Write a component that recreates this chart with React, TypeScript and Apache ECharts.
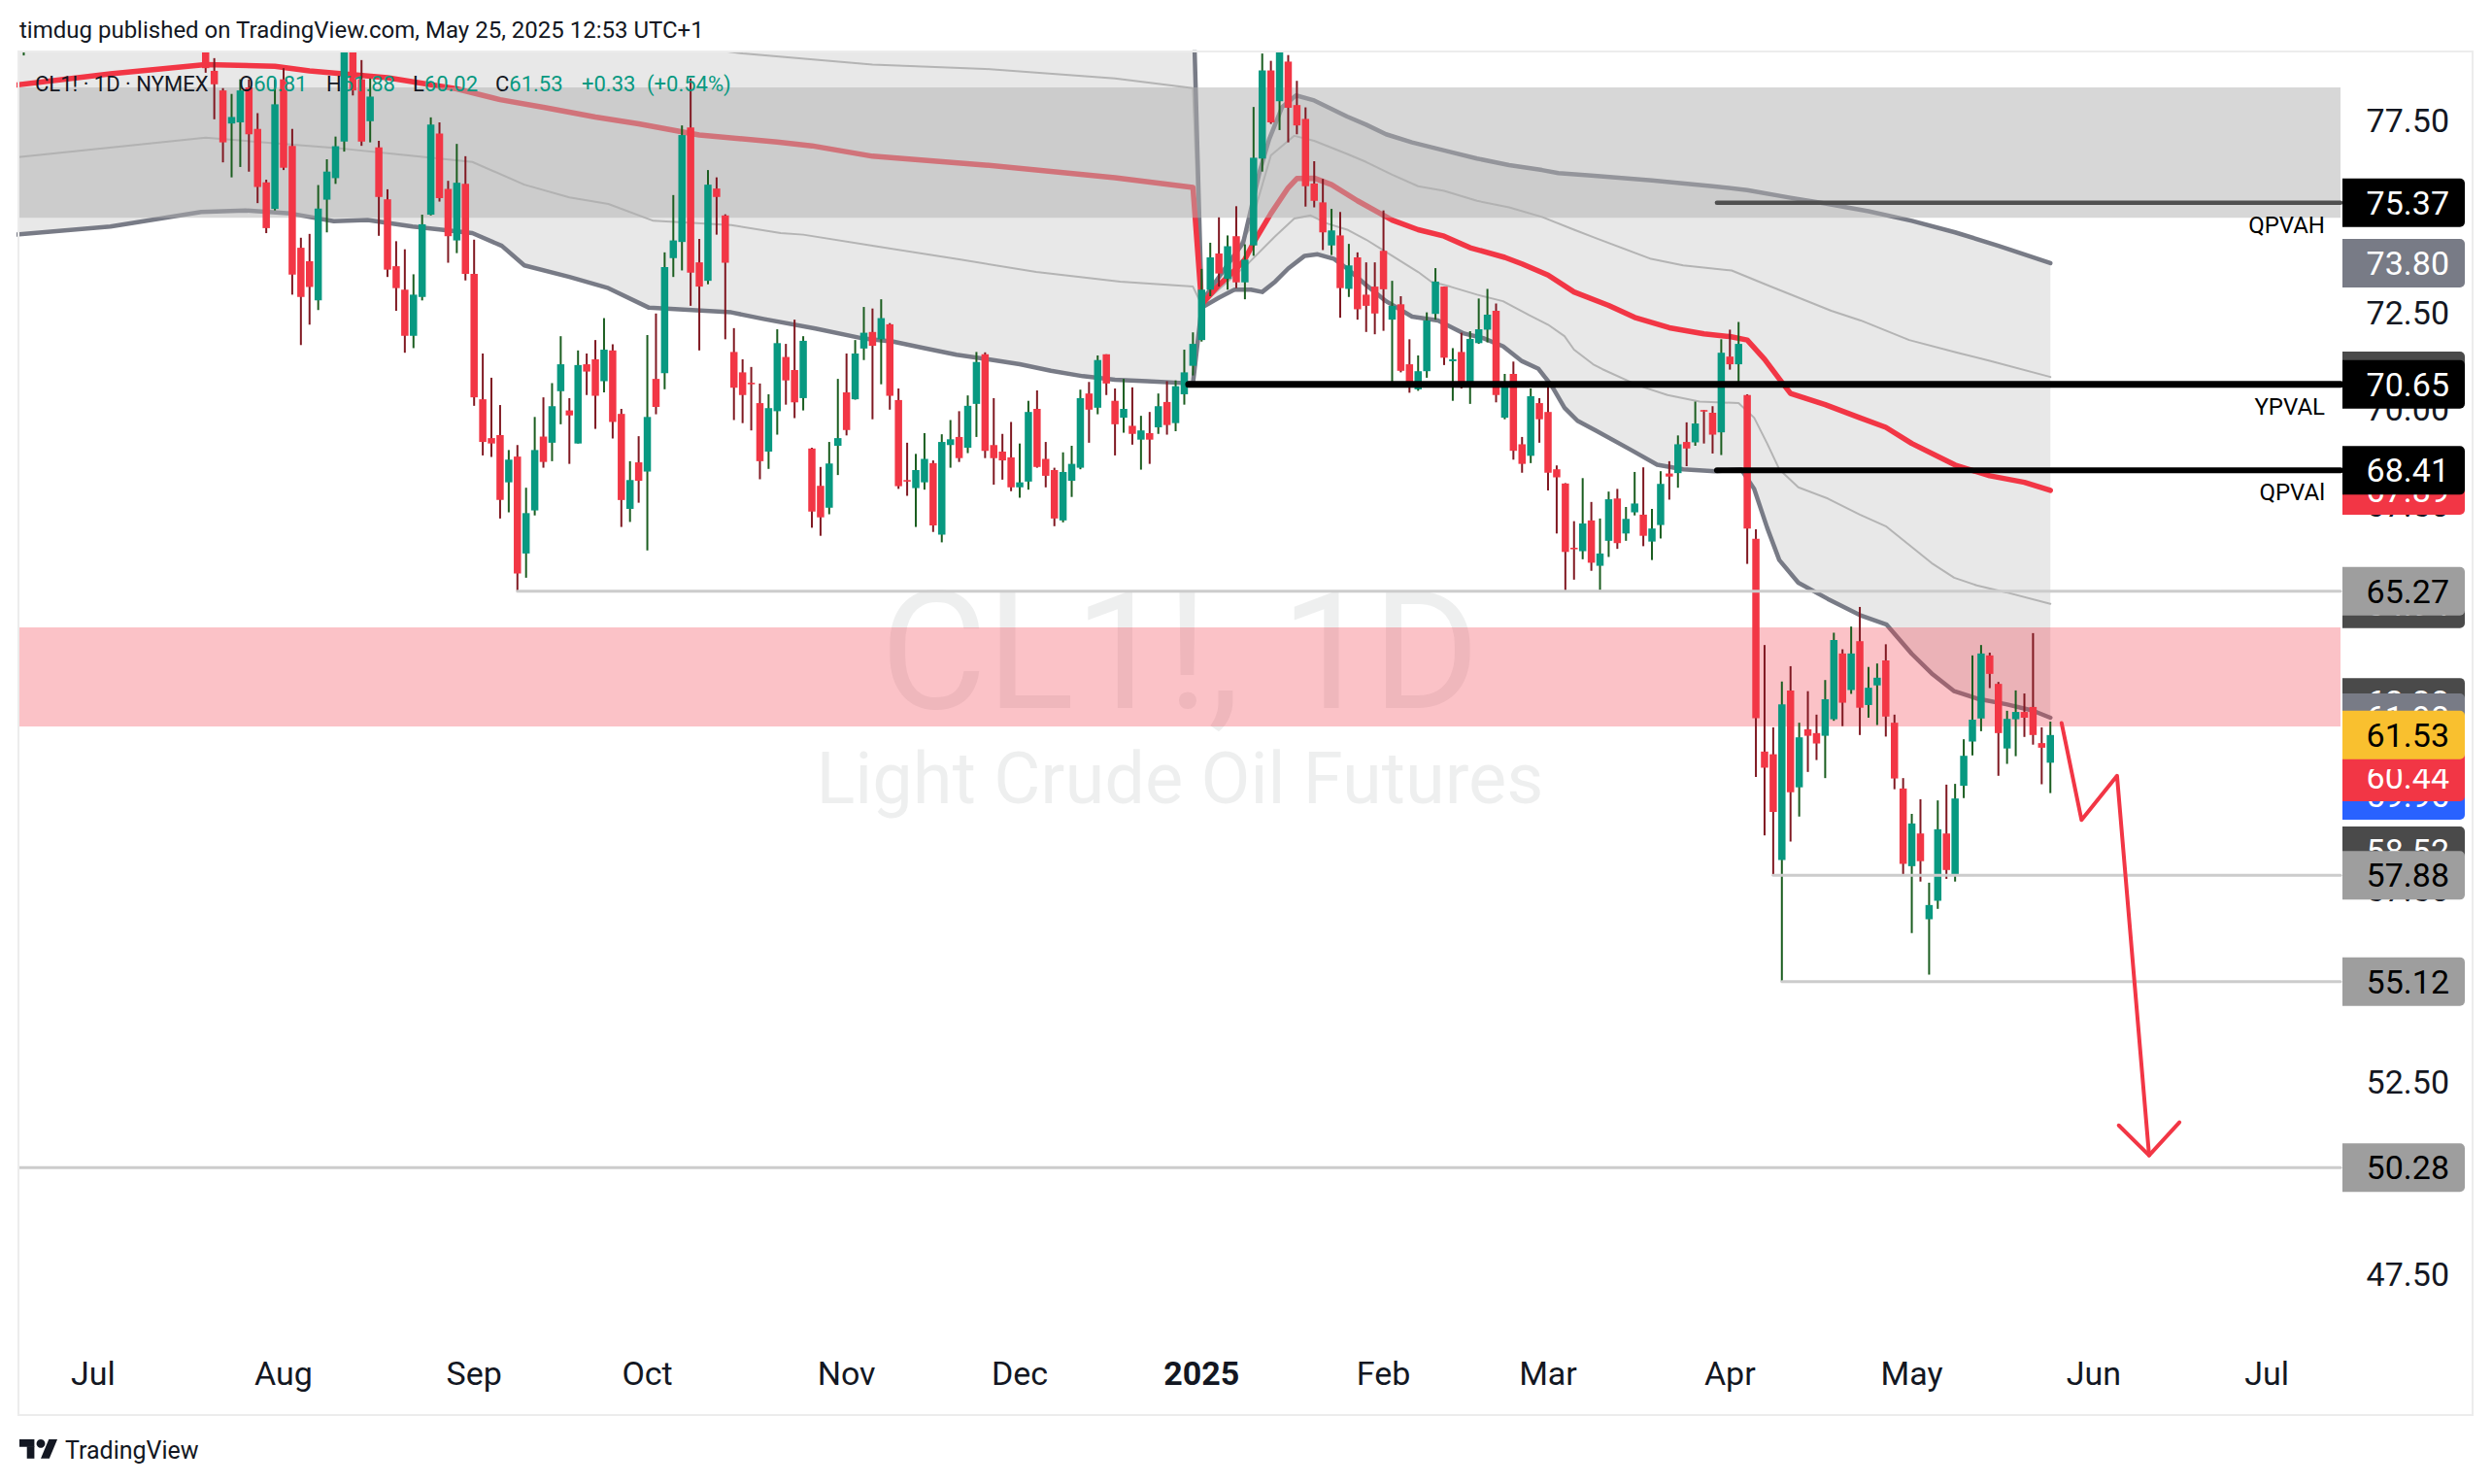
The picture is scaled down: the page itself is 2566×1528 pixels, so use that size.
import React, { useEffect, useRef } from "react";
import * as echarts from "echarts";

// ---------- calendar (trading sessions) ----------
const FIRST_SESSION = "2024-06-18";
const LAST_SESSION = "2025-07-14";
const HOLIDAYS = [
  "2024-06-19", "2024-07-04", "2024-09-02", "2024-11-28", "2024-12-25",
  "2025-01-01", "2025-01-20", "2025-02-17", "2025-04-18", "2025-05-26",
  "2025-06-19", "2025-07-04",
];
const MONTH_NAMES = ["Jan", "Feb", "Mar", "Apr", "May", "Jun", "Jul", "Aug", "Sep", "Oct", "Nov", "Dec"];

// ---------- daily candles [open, high, low, close] ----------
const jun2024 = [
  [80.3, 81.0, 79.2, 80.7], [80.8, 81.9, 80.5, 81.6], [81.5, 81.7, 80.5, 80.9], [80.8, 81.8, 80.3, 81.6],
  [81.6, 81.9, 80.6, 80.8], [80.8, 81.3, 80.0, 80.9], [80.8, 81.9, 80.4, 81.7], [81.8, 82.3, 81.3, 81.5],
];
const jul2024 = [
  [81.5, 83.5, 81.4, 83.3], [83.3, 83.8, 82.5, 82.8], [82.8, 83.9, 82.5, 83.8], [83.8, 84.3, 82.8, 83.1],
  [83.1, 83.3, 82.0, 82.3], [82.3, 82.4, 81.0, 81.4], [81.4, 82.3, 81.2, 82.1], [82.1, 83.0, 81.9, 82.6],
  [82.6, 82.9, 81.8, 82.2], [82.2, 82.4, 81.2, 81.9], [81.9, 82.0, 80.6, 80.8], [80.8, 83.0, 80.7, 82.8],
  [82.3, 82.5, 80.6, 80.9], [80.6, 80.9, 78.75, 78.87], [78.8, 79.13, 77.54, 78.45], [78.29, 78.35, 76.42, 76.94],
  [77.43, 78.2, 76.03, 77.6], [77.46, 78.58, 76.3, 78.29], [78.37, 78.58, 76.18, 77.15], [77.29, 77.7, 75.36, 75.78],
  [75.9, 75.97, 74.58, 74.71], [75.21, 78.58, 75.17, 77.93],
];
const aug2024 = [
  [78.58, 78.87, 76.22, 76.28], [76.85, 77.29, 72.98, 73.5], [74.2, 74.46, 71.67, 72.92], [73.85, 74.56, 72.2, 73.18],
  [72.83, 75.83, 72.58, 75.22], [75.45, 76.5, 74.6, 76.18], [76.01, 77.09, 75.86, 76.84], [76.96, 80.3, 76.7, 80.1],
  [79.8, 80.2, 78.16, 78.29], [78.58, 79.08, 76.85, 76.96], [77.49, 78.6, 76.94, 78.13], [76.81, 76.98, 74.51, 75.52],
  [75.46, 75.72, 73.44, 73.63], [73.72, 74.37, 72.56, 73.15], [73.11, 74.16, 71.47, 71.91], [71.91, 73.51, 71.59, 72.98],
  [72.92, 75.06, 72.83, 74.81], [75.06, 77.59, 75.04, 77.4], [77.17, 77.46, 75.4, 75.49], [75.73, 75.94, 73.81, 74.5],
  [74.39, 76.9, 74.06, 75.89], [75.86, 76.58, 73.35, 73.52],
];
const sep2024 = [
  [73.52, 74.41, 70.09, 70.31], [70.26, 71.45, 68.8, 69.15], [69.25, 70.82, 68.76, 69.11], [69.33, 70.11, 67.16, 67.64],
  [68.1, 68.94, 67.32, 68.69], [68.77, 69.07, 65.28, 65.73], [66.25, 67.96, 65.62, 67.3], [67.37, 69.8, 67.24, 68.94],
  [69.29, 70.31, 68.48, 68.63], [69.13, 70.68, 68.65, 70.08], [70.47, 71.9, 69.61, 71.17], [69.97, 70.29, 68.58, 69.84],
  [69.11, 71.53, 69.11, 71.15], [71.17, 71.45, 70.37, 70.98], [71.3, 71.8, 69.49, 70.35], [70.73, 72.37, 70.44, 71.55],
  [71.53, 71.69, 69.24, 69.67], [69.88, 70.01, 66.94, 67.64], [67.41, 68.65, 67.07, 68.16], [68.62, 69.3, 67.57, 68.14],
];
const oct2024 = [
  [68.38, 71.93, 66.33, 69.8], [70.79, 72.49, 69.87, 70.06], [70.94, 74.08, 70.52, 73.7], [73.93, 75.57, 73.44, 74.39],
  [74.35, 77.38, 73.61, 77.13], [77.33, 78.6, 72.69, 73.55], [73.82, 74.43, 71.53, 73.19], [73.34, 76.22, 73.25, 75.84],
  [75.74, 76.03, 74.54, 75.52], [75.04, 75.07, 71.82, 73.81], [71.49, 72.11, 69.72, 70.56], [70.96, 71.3, 69.64, 70.37],
  [70.69, 71.1, 69.45, 70.65], [70.16, 70.67, 68.18, 68.65], [68.9, 70.39, 68.45, 70.03], [69.95, 72.08, 69.34, 71.72],
  [71.36, 71.7, 70.12, 70.75], [71.02, 72.33, 69.77, 70.18], [70.29, 71.9, 69.97, 71.78], [68.98, 69.0, 66.92, 67.34],
  [68.01, 68.5, 66.71, 67.19], [67.44, 69.15, 67.27, 68.59], [69.05, 70.79, 68.29, 69.25],
];
const nov2024 = [
  [70.44, 71.45, 69.32, 69.46], [70.26, 71.8, 70.25, 71.45], [71.58, 72.66, 71.28, 71.99], [72.01, 72.62, 69.74, 71.65],
  [71.82, 72.86, 70.65, 72.37], [72.21, 72.24, 69.99, 70.35], [70.24, 70.54, 67.93, 68.0], [68.16, 69.13, 67.75, 68.13],
  [67.95, 68.84, 66.94, 68.42], [68.1, 69.38, 67.91, 68.71], [68.6, 68.67, 66.81, 66.98], [66.74, 69.35, 66.54, 69.15],
  [69.07, 69.72, 68.48, 69.22], [69.28, 69.95, 68.63, 68.73], [69.0, 70.36, 68.86, 70.09], [70.14, 71.49, 69.28, 71.23],
  [71.43, 71.48, 68.73, 68.92], [69.07, 70.29, 68.04, 68.73], [68.9, 69.36, 68.17, 68.67], [68.75, 69.67, 67.87, 67.97],
];
const dec2024 = [
  [67.97, 69.11, 67.7, 68.1], [68.12, 70.22, 67.91, 69.93], [70.01, 70.49, 68.48, 68.5], [68.71, 69.15, 67.97, 68.27],
  [68.42, 68.48, 66.96, 67.16], [67.11, 68.88, 67.06, 68.37], [68.14, 69.05, 67.72, 68.58], [68.48, 70.51, 68.44, 70.29],
  [70.41, 70.71, 69.13, 69.99], [70.04, 71.4, 69.87, 71.28], [71.43, 71.43, 70.37, 70.67], [70.22, 70.54, 68.8, 69.61],
  [69.78, 70.79, 69.39, 70.01], [69.57, 70.57, 69.08, 69.36], [69.21, 69.83, 68.43, 69.45], [69.38, 69.93, 68.58, 69.21],
  [69.53, 70.41, 69.36, 70.08], [70.19, 70.73, 69.34, 69.59], [69.64, 70.75, 69.43, 70.6], [70.39, 71.55, 70.12, 70.96],
  [71.13, 72.0, 70.88, 71.7],
];
const jan2025 = [
  [71.8, 73.65, 71.76, 73.11], [73.11, 74.33, 72.94, 73.95], [74.05, 74.99, 73.19, 73.53], [73.39, 74.52, 73.11, 74.24],
  [74.5, 75.28, 73.15, 73.3], [73.3, 74.29, 72.86, 73.89], [74.26, 77.86, 73.99, 76.54], [76.52, 79.25, 76.18, 78.81],
  [78.81, 79.06, 77.42, 77.46], [78.01, 79.8, 77.26, 79.45], [79.04, 79.21, 76.94, 77.84], [77.91, 78.54, 77.15, 77.38],
  [77.55, 77.85, 75.27, 75.8], [75.87, 76.45, 75.25, 75.42], [75.38, 75.99, 74.14, 74.6], [74.26, 75.21, 74.01, 74.65],
  [74.52, 75.13, 72.38, 73.15], [73.13, 74.3, 72.92, 73.74], [73.95, 74.08, 72.33, 72.6], [72.98, 73.82, 72.01, 72.69],
  [73.19, 73.82, 71.95, 72.49],
];
const feb2025 = [
  [74.12, 75.17, 72.04, 73.12], [72.33, 73.34, 70.71, 72.69], [72.73, 72.94, 70.96, 71.0], [71.17, 71.82, 70.43, 70.58],
  [70.52, 71.4, 70.48, 70.99], [70.99, 72.52, 70.82, 72.31], [72.48, 73.67, 72.33, 73.32], [73.19, 73.19, 71.15, 71.34],
  [71.25, 71.59, 70.22, 71.3], [71.49, 71.99, 70.54, 70.71], [70.67, 72.03, 70.14, 71.83], [71.72, 72.88, 71.7, 72.08],
  [72.07, 73.13, 71.74, 72.46], [72.56, 72.75, 70.18, 70.37], [69.78, 70.92, 69.74, 70.69], [70.92, 71.24, 68.69, 68.92],
  [69.09, 69.28, 68.35, 68.58], [68.79, 70.54, 68.6, 70.34], [70.16, 70.29, 69.13, 69.74],
];
const mar2025 = [
  [69.93, 70.58, 67.89, 68.35], [68.44, 68.54, 66.77, 68.23], [68.07, 68.08, 65.24, 66.29], [66.4, 67.09, 65.57, 66.36],
  [66.31, 68.21, 66.1, 67.03], [67.11, 67.59, 65.8, 66.01], [65.93, 67.16, 65.3, 66.25], [66.58, 67.86, 66.16, 67.66],
  [67.68, 67.93, 66.37, 66.52], [66.77, 67.46, 66.58, 67.15], [67.32, 68.37, 67.24, 67.55], [67.26, 68.49, 66.44, 66.71],
  [66.56, 67.41, 66.08, 66.9], [66.99, 68.39, 66.64, 68.06], [68.33, 68.65, 67.65, 68.25], [68.34, 69.32, 67.96, 69.09],
  [69.15, 69.66, 68.52, 68.98], [69.14, 70.2, 69.05, 69.63], [69.98, 69.98, 69.11, 69.95], [69.91, 70.08, 68.85, 69.34],
  [69.4, 71.82, 68.81, 71.47],
];
const apr2025 = [
  [71.37, 72.07, 71.03, 71.17], [71.17, 72.27, 70.6, 71.7], [70.37, 70.39, 65.98, 66.9], [66.63, 66.88, 60.44, 61.97],
  [61.1, 63.87, 58.92, 60.68], [61.03, 61.73, 57.87, 59.53], [58.28, 62.92, 55.12, 62.33], [62.69, 63.32, 58.76, 60.04],
  [60.17, 61.85, 59.41, 61.47], [61.68, 62.67, 60.57, 61.51], [61.58, 62.06, 60.88, 61.31], [61.51, 62.96, 60.41, 62.46],
  [61.94, 64.19, 61.9, 64.0], [63.65, 63.76, 61.76, 62.37], [62.7, 64.35, 62.6, 63.65], [63.97, 64.86, 61.53, 62.24],
  [62.31, 63.3, 61.98, 62.76], [62.82, 63.39, 61.79, 63.02], [63.47, 63.89, 61.49, 62.01], [61.85, 62.06, 60.12, 60.4],
  [60.14, 60.41, 57.9, 58.18],
];
const may2025 = [
  [58.12, 59.48, 56.38, 59.23], [58.97, 59.86, 57.72, 58.25], [56.74, 57.69, 55.3, 57.11], [57.22, 59.83, 57.01, 59.08],
  [58.97, 60.24, 57.79, 58.02], [57.9, 60.26, 57.72, 59.88], [60.21, 61.42, 59.89, 60.99], [61.36, 63.6, 61.0, 61.93],
  [61.96, 63.87, 61.63, 63.65], [63.6, 63.67, 62.75, 63.12], [62.86, 62.91, 60.47, 61.58], [61.18, 62.16, 60.78, 61.95],
  [61.94, 62.69, 60.98, 62.13], [62.13, 62.61, 61.48, 61.98], [62.26, 64.18, 61.28, 61.53], [61.32, 61.73, 60.25, 61.2],
  [60.81, 61.88, 60.02, 61.53],
];

// ---------- anchored VWAP and bands: [bar offset from 2024-07-01, price] ----------
const vwapLine = [
  [-9, 78.43], [2, 78.72], [13, 78.96], [21, 78.92], [25, 78.8], [34, 78.62], [42, 78.33], [47, 78.05], [52, 77.85],
  [58, 77.6], [63, 77.42], [70, 77.13], [79, 76.95], [83, 76.85], [90, 76.58], [103, 76.35], [118, 76.02], [127, 75.77],
  [128, 72.72], [129, 72.98], [130, 73.23], [132, 73.65], [133, 73.9], [134, 74.33], [135, 74.71], [136, 75.09],
  [138, 75.76], [139, 76.0], [141, 76.01], [143, 75.84], [146, 75.42], [150, 74.92], [153, 74.67], [156, 74.5],
  [159, 74.2], [163, 73.95], [165, 73.78], [168, 73.49], [171, 73.05], [175, 72.7], [178, 72.39], [182, 72.12],
  [186, 71.96], [189, 71.89], [191, 71.8], [193, 71.3], [195, 70.7], [196, 70.41], [200, 70.12], [204, 69.78],
  [207, 69.53], [210, 69.11], [215, 68.55], [219, 68.27], [223, 68.1], [226, 67.89],
];
const upperBand2 = [
  [-9, 82.4], [20, 82.9], [45, 82.6], [70, 81.8], [90, 81.1], [110, 80.9], [127, 80.9],
  [128, 72.8], [132.8, 74.33], [134.7, 76.18], [135.8, 77.02], [137.3, 77.86], [138.9, 78.16], [141, 78.03],
  [144.8, 77.61], [147, 77.4], [149.3, 77.15], [152.3, 76.94], [156, 76.73], [159.8, 76.52], [163.5, 76.35],
  [167.3, 76.22], [169.2, 76.14], [173, 76.08], [180, 75.95], [187, 75.8], [191, 75.7], [196, 75.5], [200, 75.35],
  [205, 75.15], [210, 74.9], [215, 74.6], [220, 74.25], [226, 73.8],
];
const upperBand1 = [
  [-9, 80.4], [13, 80.9], [40, 80.4], [60, 79.7], [75, 79.25], [90, 78.96], [103, 78.85], [118, 78.6], [127, 78.35],
  [128, 72.75], [133.5, 74.67], [136, 76.6], [138.7, 77.11], [141, 76.98], [144.8, 76.64], [147, 76.43], [150, 76.1],
  [153, 75.8], [156, 75.68], [159.8, 75.42], [163.5, 75.25], [167.3, 75.0], [171, 74.67], [173.5, 74.45],
  [179.9, 73.91], [183.6, 73.74], [189.2, 73.61], [193.3, 73.23], [200.7, 72.56], [204.1, 72.31], [209.7, 71.8],
  [215.3, 71.47], [219, 71.26], [226, 70.84],
];
const lowerBand1 = [
  [-9, 76.55], [13, 77.06], [27.8, 76.8], [36.4, 76.6], [43.8, 76.43], [49.8, 75.84], [55, 75.51], [59.5, 75.34],
  [64.7, 74.9], [73.7, 74.79], [79.4, 74.58], [82, 74.54], [90, 74.25], [100, 73.9], [108.9, 73.57], [118.6, 73.32],
  [127, 73.19], [128, 72.72], [133.5, 73.82], [136.5, 74.5], [138.7, 74.96], [140.6, 75.04], [142.5, 74.83],
  [144.8, 74.67], [147, 74.41], [150, 73.99], [153, 73.57], [154.5, 73.32], [156.7, 73.19], [159.8, 72.98],
  [162.8, 72.81], [165.8, 72.45], [168, 72.2], [169.9, 71.9], [171, 71.55], [173.2, 71.17], [174.3, 71.04],
  [178.4, 70.62], [181.8, 70.37], [185.5, 70.2], [190, 70.16], [191.8, 69.78], [193.3, 69.11], [194.7, 68.44],
  [196.9, 67.97], [200.3, 67.68], [204, 67.26], [207, 66.96], [210, 66.42], [212.3, 66.0], [214.9, 65.62],
  [217.5, 65.42], [220.9, 65.24], [226, 64.94],
];
const lowerBand2 = [
  [-9, 74.54], [2, 74.75], [12.5, 75.13], [17.6, 75.17], [22.8, 75.09], [27.8, 74.89], [31.7, 74.92], [36.9, 74.75],
  [43.8, 74.58], [47.2, 74.25], [49.8, 73.74], [55, 73.44], [59.5, 73.15], [64.2, 72.64], [73.7, 72.52],
  [77.4, 72.35], [83.4, 72.1], [88.7, 71.85], [92.4, 71.76], [96, 71.59], [99.7, 71.42], [103.4, 71.3], [107, 71.17],
  [110.6, 71.0], [114.3, 70.86], [118, 70.77], [121.7, 70.73], [127, 70.67],
  [128, 72.64], [130, 72.9], [131.8, 73.11], [133.7, 73.11], [135, 73.05], [136.5, 73.32], [138, 73.66],
  [139.9, 73.99], [141.4, 74.03], [143.3, 73.91], [144.8, 73.66], [147, 73.23], [149.3, 72.81], [152.3, 72.41],
  [155.3, 72.31], [158.3, 71.97], [160.5, 71.85], [162.8, 71.64], [165, 71.25], [166.9, 71.05], [168.4, 70.62],
  [169.9, 70.04], [171.4, 69.7], [173.5, 69.45], [177.6, 68.94], [180.6, 68.56], [183.6, 68.44], [187.3, 68.39],
  [190.3, 68.44], [191.8, 67.93], [193.3, 66.92], [194.7, 66.08], [196.9, 65.49], [200.3, 65.07], [204, 64.65],
  [207.1, 64.4], [210, 63.64], [212.3, 63.13], [214.9, 62.67], [217.5, 62.48], [220.9, 62.33], [223.9, 62.17],
  [226, 61.98],
];

// ---------- horizontal levels ----------
const levelPrices = [75.37, 70.65, 68.41, 65.27, 57.88, 55.12, 50.28];
const levelStarts = [187.5, 126.5, 187.5, 49, 194, 195, -9];
const levelNames = ["QPVAH", "YPVAL", "QPVAl", "", "", "", ""];

// ---------- zones [top, bottom] ----------
const zoneTops = [78.37, 64.33];
const zoneBottoms = [74.98, 61.75];

// ---------- projected path ----------
const arrowPath = [[227.3, 61.84], [229.6, 59.32], [233.7, 60.47], [237.4, 50.6]];
const arrowHead = [[233.9, 51.38], [237.4, 50.6], [240.9, 51.46]];

// ---------- price scale (ticks that peek out from under the tags) ----------
const priceTicks = [77.5, 72.5, 70, 67.5, 57.5, 52.5, 47.5];
const tagPrices = [70.87, 75.37, 70.65, 73.8, 67.89, 68.41, 64.94, 65.27, 59.96, 60.44, 61.27, 62.38, 61.98, 61.53, 58.52, 57.88, 55.12, 50.28];
const tagKinds = ["dark", "black", "black", "slate", "red", "black", "dark", "grey", "blue", "red", "red", "dark", "slate", "yellow", "dark", "grey", "grey", "grey"];

// ---------- styling ----------
const FONT = "Roboto, 'Noto Sans', sans-serif";
const TEXT = "#131722";
const UP = "#089981";
const DN = "#f23645";
const WICK_UP = "#1b5e20";
const WICK_DN = "#801922";
const Y_MIN = 45.692;
const Y_MAX = 79.278;
const TAG_STYLE: Record<string, { bg: string; fg: string }> = {
  black: { bg: "#000000", fg: "#ffffff" },
  slate: { bg: "#787b86", fg: "#ffffff" },
  red: { bg: "#f23645", fg: "#ffffff" },
  dark: { bg: "#4a4a4a", fg: "#ffffff" },
  grey: { bg: "#9e9e9e", fg: "#000000" },
  blue: { bg: "#2962ff", fg: "#ffffff" },
  yellow: { bg: "#f9c02f", fg: "#000000" },
};
const ZONE_FILLS = ["rgba(175,175,175,0.5)", "rgba(242,54,69,0.3)"];
const LEVEL_STYLE = [
  { color: "#4f4f4f", width: 4.5 },
  { color: "#000000", width: 7 },
  { color: "#000000", width: 6 },
  { color: "#cccccc", width: 3 },
  { color: "#cccccc", width: 3 },
  { color: "#cccccc", width: 3 },
  { color: "#cccccc", width: 3 },
];

function buildSessions(): string[] {
  const out: string[] = [];
  const d = new Date(FIRST_SESSION + "T00:00:00Z");
  const end = new Date(LAST_SESSION + "T00:00:00Z");
  while (d.getTime() <= end.getTime()) {
    const wd = d.getUTCDay();
    const s = d.toISOString().slice(0, 10);
    if (wd !== 0 && wd !== 6 && HOLIDAYS.indexOf(s) < 0) out.push(s);
    d.setUTCDate(d.getUTCDate() + 1);
  }
  return out;
}

const sessions = buildSessions();
const X0 = sessions.indexOf("2024-07-01");
const X_MAX = sessions.length - 0.5;
const candles = [...jun2024, ...jul2024, ...aug2024, ...sep2024, ...oct2024, ...nov2024, ...dec2024,
  ...jan2025, ...feb2025, ...mar2025, ...apr2025, ...may2025];
const monthStart = sessions.map((s, i) => i > 0 && s.slice(0, 7) !== sessions[i - 1].slice(0, 7));

const toXY = (pts: number[][]) => pts.map(([i, v]) => [i + X0, v]);

function lineSeries(pts: number[][], color: string, width: number, z: number) {
  return {
    type: "line",
    xAxisIndex: 1,
    yAxisIndex: 0,
    data: pts,
    showSymbol: false,
    symbol: "none",
    silent: true,
    z,
    lineStyle: { color, width, cap: "round", join: "round" },
  };
}

function buildOption() {
  const series: any[] = [];

  // band fill between outer bands
  series.push({
    type: "custom",
    xAxisIndex: 1,
    yAxisIndex: 0,
    z: 1,
    silent: true,
    clip: true,
    data: [[0, 60]],
    encode: { x: 0, y: 1 },
    renderItem: (params: any, api: any) => {
      const cs = params.coordSys;
      const cl = (p: number[]) => [
        Math.max(cs.x, Math.min(cs.x + cs.width, p[0])),
        Math.max(cs.y, Math.min(cs.y + cs.height, p[1])),
      ];
      const pts = toXY(upperBand2).map((p) => cl(api.coord(p)))
        .concat(toXY(lowerBand2).reverse().map((p) => cl(api.coord(p))));
      return { type: "polygon", shape: { points: pts }, style: { fill: "#e8e8e8" } };
    },
  });

  series.push(lineSeries(toXY(upperBand1), "#b4b4b4", 2, 2));
  series.push(lineSeries(toXY(lowerBand1), "#b4b4b4", 2, 2));
  series.push(lineSeries(toXY(upperBand2), "#787b86", 4.5, 2));
  series.push(lineSeries(toXY(lowerBand2), "#787b86", 4.5, 2));
  series.push(lineSeries(toXY(vwapLine), "#f23645", 5.5, 2));

  // shaded zones
  series.push({
    type: "custom",
    xAxisIndex: 1,
    yAxisIndex: 0,
    z: 3,
    silent: true,
    data: zoneTops.map((t, k) => [0, t, zoneBottoms[k]]),
    encode: { x: 0, y: [1, 2] },
    renderItem: (params: any, api: any) => {
      const cs = params.coordSys;
      const y1 = api.coord([0, api.value(1)])[1];
      const y2 = api.coord([0, api.value(2)])[1];
      return {
        type: "rect",
        shape: { x: cs.x, y: y1, width: cs.width, height: y2 - y1 },
        style: { fill: ZONE_FILLS[params.dataIndex] },
      };
    },
  });

  // candles
  series.push({
    type: "custom",
    xAxisIndex: 1,
    yAxisIndex: 0,
    z: 4,
    silent: true,
    clip: true,
    data: candles.map((c, i) => [i, c[0], c[1], c[2], c[3]]),
    encode: { x: 0, y: [1, 2, 3, 4] },
    renderItem: (params: any, api: any) => {
      const x = api.value(0);
      const o = api.value(1), h = api.value(2), l = api.value(3), c = api.value(4);
      const up = c >= o;
      const pO = api.coord([x, o]);
      const yC = api.coord([x, c])[1];
      const yH = api.coord([x, h])[1];
      const yL = api.coord([x, l])[1];
      const w = api.size([1, 0])[0] * 0.84;
      const top = Math.min(pO[1], yC);
      const ht = Math.max(Math.abs(pO[1] - yC), 1.6);
      return {
        type: "group",
        children: [
          { type: "rect", shape: { x: pO[0] - 1, y: yH, width: 2, height: Math.max(yL - yH, 1) }, style: { fill: up ? WICK_UP : WICK_DN } },
          { type: "rect", shape: { x: pO[0] - w / 2, y: top, width: w, height: ht }, style: { fill: up ? UP : DN } },
        ],
      };
    },
  });

  // levels
  levelPrices.forEach((p, k) => {
    series.push(lineSeries([[levelStarts[k] + X0, p], [X_MAX, p]], LEVEL_STYLE[k].color, LEVEL_STYLE[k].width, 5));
  });

  // projected path
  series.push(lineSeries(toXY(arrowPath), "#f23645", 4, 6));
  series.push(lineSeries(toXY(arrowHead), "#f23645", 4, 6));

  return {
    animation: false,
    backgroundColor: "#ffffff",
    grid: { left: 20, top: 54, width: 2390, height: 1330 },
    xAxis: [
      {
        type: "category",
        data: sessions,
        boundaryGap: true,
        axisLine: { show: false },
        axisTick: { show: false },
        splitLine: { show: false },
        axisLabel: {
          interval: (i: number) => monthStart[i],
          formatter: (v: string) => {
            const m = +v.slice(5, 7);
            return m === 1 ? "{b|" + v.slice(0, 4) + "}" : MONTH_NAMES[m - 1];
          },
          fontSize: 34,
          fontFamily: FONT,
          color: TEXT,
          margin: 13,
          rich: { b: { fontSize: 34, fontFamily: FONT, color: TEXT, fontWeight: "bold" } },
        },
      },
      { type: "value", min: -0.5, max: X_MAX, show: false },
    ],
    yAxis: [{ type: "value", min: Y_MIN, max: Y_MAX, position: "right", show: false, splitLine: { show: false } }],
    series,
  };
}

function buildGraphic(chart: any) {
  const py = (v: number) => chart.convertToPixel({ yAxisIndex: 0 }, v) as number;
  const px = (x: number) => chart.convertToPixel({ xAxisIndex: 1 }, x) as number;
  const g: any[] = [];
  let z2 = 0;
  const add = (el: any, z = 50) => { el.z = z; el.z2 = z2++; g.push(el); };

  // watermark
  add({ type: "text", x: 1215, y: 671, style: { text: "CL1!, 1D", fontSize: 168, fontFamily: FONT, fill: "rgba(19,23,34,0.07)", align: "center", verticalAlign: "middle" } }, 0);
  add({ type: "text", x: 1215, y: 801, style: { text: "Light Crude Oil Futures", fontSize: 74, fontFamily: FONT, fill: "rgba(19,23,34,0.07)", align: "center", verticalAlign: "middle" } }, 0);

  // frame
  add({ type: "rect", shape: { x: 19, y: 53, width: 2527, height: 1404 }, style: { fill: "none", stroke: "#ececec", lineWidth: 2 } });

  // header
  add({ type: "text", x: 20, y: 31, style: { text: "timdug published on TradingView.com, May 25, 2025 12:53 UTC+1", fontSize: 24, fontFamily: FONT, fill: TEXT, verticalAlign: "middle" } });

  // legend
  const last = candles[candles.length - 1];
  const prev = candles[candles.length - 2];
  const chg = last[3] - prev[3];
  const col = chg >= 0 ? UP : DN;
  const rich = { d: { fontSize: 22, fontFamily: FONT, fill: TEXT, color: TEXT }, g: { fontSize: 22, fontFamily: FONT, fill: col, color: col } };
  const legend: [number, string][] = [
    [36, "{d|CL1! · 1D · NYMEX}"],
    [246, "{d|O}{g|" + last[0].toFixed(2) + "}"],
    [336, "{d|H}{g|" + last[1].toFixed(2) + "}"],
    [425, "{d|L}{g|" + last[2].toFixed(2) + "}"],
    [510, "{d|C}{g|" + last[3].toFixed(2) + "}"],
    [599, "{g|" + (chg >= 0 ? "+" : "") + chg.toFixed(2) + "}"],
    [666, "{g|(" + (chg >= 0 ? "+" : "") + ((chg / prev[3]) * 100).toFixed(2) + "%)}"],
  ];
  legend.forEach(([x, t]) => add({ type: "text", x, y: 86, style: { text: t, rich, fontSize: 22, fontFamily: FONT, fill: TEXT, verticalAlign: "middle" } }));

  // level captions
  levelPrices.forEach((p, k) => {
    if (!levelNames[k]) return;
    add({ type: "text", x: px(X_MAX) - 16, y: py(p) + 23, style: { text: levelNames[k], fontSize: 24, fontFamily: FONT, fill: "#000000", align: "right", verticalAlign: "middle" } });
  });

  // price scale ticks
  priceTicks.forEach((v) => {
    add({ type: "text", x: 2522, y: py(v), style: { text: v.toFixed(2), fontSize: 34, fontFamily: FONT, fill: TEXT, align: "right", verticalAlign: "middle" } }, 60);
  });
  // price tags
  tagPrices.forEach((v, k) => {
    const st = TAG_STYLE[tagKinds[k]];
    const y = py(v);
    add({ type: "rect", shape: { x: 2412, y: y - 25, width: 126, height: 50, r: [0, 5, 5, 0] }, style: { fill: st.bg } }, 60);
    add({ type: "text", x: 2522, y, style: { text: v.toFixed(2), fontSize: 34, fontFamily: FONT, fill: st.fg, align: "right", verticalAlign: "middle" } }, 60);
  });

  // footer logo
  const lx = 20, ly = 1482, s = 1.1;
  add({ type: "rect", shape: { x: lx, y: ly, width: 14 * s, height: 7 * s }, style: { fill: TEXT } });
  add({ type: "rect", shape: { x: lx + 7 * s, y: ly + 7 * s - 0.5, width: 7 * s, height: 11 * s + 0.5 }, style: { fill: TEXT } });
  add({ type: "circle", shape: { cx: lx + 20 * s, cy: ly + 4 * s, r: 4 * s }, style: { fill: TEXT } });
  add({ type: "polygon", shape: { points: [[lx + 20 * s, ly + 18 * s], [lx + 27.5 * s, ly], [lx + 35.5 * s, ly], [lx + 28 * s, ly + 18 * s]] }, style: { fill: TEXT } });
  add({ type: "text", x: 67, y: 1493, style: { text: "TradingView", fontSize: 25, fontFamily: FONT, fill: TEXT, verticalAlign: "middle" } });

  return g;
}

export default function App() {
  const ref = useRef<HTMLDivElement>(null);
  useEffect(() => {
    document.body.style.margin = "0";
    const chart = echarts.init(ref.current as HTMLDivElement, undefined, { renderer: "svg" });
    chart.setOption(buildOption() as any);
    chart.setOption({ graphic: { elements: buildGraphic(chart) } } as any);
    return () => chart.dispose();
  }, []);
  return <div ref={ref} style={{ width: 2566, height: 1528, background: "#ffffff" }} />;
}
